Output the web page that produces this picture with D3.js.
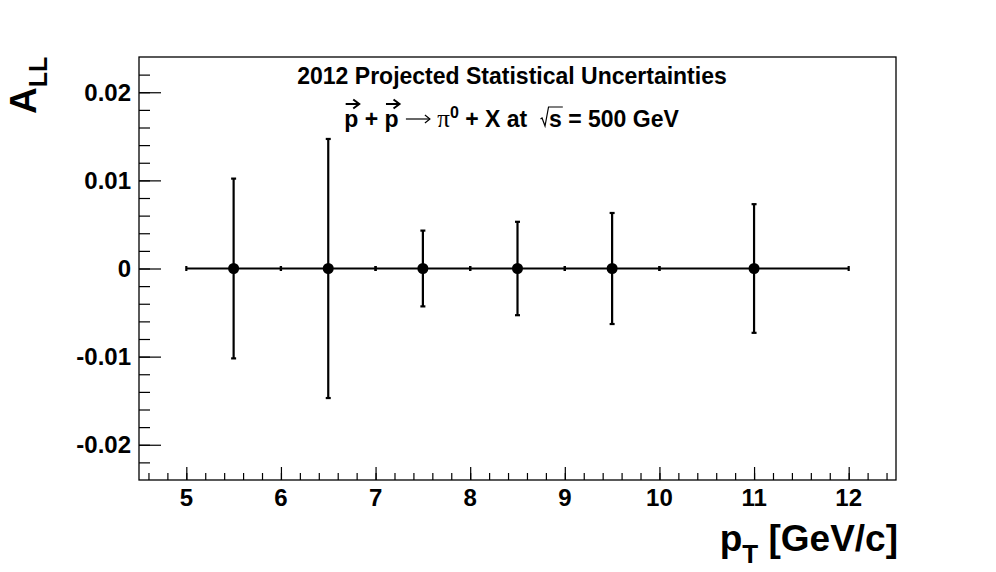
<!DOCTYPE html>
<html><head><meta charset="utf-8">
<script src="https://cdn.jsdelivr.net/npm/d3@7"></script>
<style>body{margin:0;background:#fff}svg{display:block}text{white-space:pre}</style>
</head><body>
<script>
const ptCenters = [5.5, 6.5, 7.5, 8.5, 9.5, 11];
const ptHalfWidths = [0.5, 0.5, 0.5, 0.5, 0.5, 1.0];
const allValues = [0, 0, 0, 0, 0, 0];
const allErrors = [0.0102, 0.0147, 0.0043, 0.0053, 0.0063, 0.0073];
const xTickValues = [5, 6, 7, 8, 9, 10, 11, 12];
const yTickValues = [-0.02, -0.01, 0, 0.01, 0.02];
const yTickLabels = ["-0.02", "-0.01", "0", "0.01", "0.02"];
const titleText = "2012 Projected Statistical Uncertainties";

const W = 996, H = 572;
const m = {l: 139, r: 100, t: 57, b: 92};
const FONT = "'Liberation Sans', Arial, Helvetica, sans-serif";

const svg = d3.select("body").append("svg").attr("width", W).attr("height", H)
  .style("font-family", FONT);

const x = d3.scaleLinear().domain([4.5, 12.5]).range([m.l, W - m.r]);
const y = d3.scaleLinear().domain([-0.024, 0.024]).range([H - m.b, m.t]);

// frame
svg.append("rect").attr("x", m.l).attr("y", m.t)
  .attr("width", W - m.r - m.l).attr("height", H - m.b - m.t)
  .attr("fill", "none").attr("stroke", "#000").attr("stroke-width", 1.3);

// x axis ticks
const xMinor = d3.range(4.6, 12.5, 0.2).map(v => +v.toFixed(2));
svg.append("g").attr("transform", `translate(0,${H - m.b})`)
  .call(d3.axisTop(x).tickValues(xMinor).tickSize(7).tickFormat(""))
  .call(g => g.select(".domain").remove())
  .call(g => g.selectAll("line").attr("stroke-width", 1.2));
svg.append("g").attr("transform", `translate(0,${H - m.b})`)
  .call(d3.axisTop(x).tickValues(xTickValues).tickSize(13).tickFormat(""))
  .call(g => g.select(".domain").remove())
  .call(g => g.selectAll("line").attr("stroke-width", 1.2));
svg.append("g").selectAll("text").data(xTickValues).join("text")
  .attr("x", d => x(d)).attr("y", H - m.b + 26)
  .attr("text-anchor", "middle").attr("font-weight", "bold").attr("font-size", 24)
  .text(d => d);

// y ticks
const yMinor = d3.range(-0.022, 0.0235, 0.002).map(v => +v.toFixed(4));
svg.append("g").attr("transform", `translate(${m.l},0)`)
  .call(d3.axisRight(y).tickValues(yMinor).tickSize(11).tickFormat(""))
  .call(g => g.select(".domain").remove())
  .call(g => g.selectAll("line").attr("stroke-width", 1.2));
svg.append("g").attr("transform", `translate(${m.l},0)`)
  .call(d3.axisRight(y).tickValues(yTickValues).tickSize(22).tickFormat(""))
  .call(g => g.select(".domain").remove())
  .call(g => g.selectAll("line").attr("stroke-width", 1.2));
svg.append("g").selectAll("text").data(yTickValues).join("text")
  .attr("x", m.l - 8).attr("y", d => y(d) + 8.5)
  .attr("text-anchor", "end").attr("font-weight", "bold").attr("font-size", 24)
  .text((d, i) => yTickLabels[i]);

// data
const pts = ptCenters.map((c, i) => ({c, hw: ptHalfWidths[i], v: allValues[i], e: allErrors[i]}));
const gData = svg.append("g").attr("stroke", "#000").attr("stroke-width", 2.2);
gData.selectAll(".hx").data(pts).join("line")
  .attr("x1", d => x(d.c - d.hw)).attr("x2", d => x(d.c + d.hw))
  .attr("y1", d => y(d.v)).attr("y2", d => y(d.v));
gData.selectAll(".vy").data(pts).join("line")
  .attr("x1", d => x(d.c)).attr("x2", d => x(d.c))
  .attr("y1", d => y(d.v - d.e)).attr("y2", d => y(d.v + d.e));
const caps = [];
pts.forEach(d => {
  caps.push({x1: x(d.c) - 2.5, x2: x(d.c) + 2.5, y1: y(d.v + d.e), y2: y(d.v + d.e)});
  caps.push({x1: x(d.c) - 2.5, x2: x(d.c) + 2.5, y1: y(d.v - d.e), y2: y(d.v - d.e)});
  caps.push({x1: x(d.c - d.hw), x2: x(d.c - d.hw), y1: y(d.v) - 2.5, y2: y(d.v) + 2.5});
  caps.push({x1: x(d.c + d.hw), x2: x(d.c + d.hw), y1: y(d.v) - 2.5, y2: y(d.v) + 2.5});
});
gData.selectAll(".cap").data(caps).join("line")
  .attr("x1", d => d.x1).attr("x2", d => d.x2).attr("y1", d => d.y1).attr("y2", d => d.y2);
svg.append("g").selectAll("circle").data(pts).join("circle")
  .attr("cx", d => x(d.c)).attr("cy", d => y(d.v)).attr("r", 5.5).attr("fill", "#000");

// title
svg.append("text").attr("x", 512).attr("y", 84).attr("text-anchor", "middle")
  .attr("font-weight", "bold").attr("font-size", 23).text(titleText);

// second line, built from pieces
const line2 = svg.append("g");
const base = 127;
let cx = 0;
function piece(txt, opts = {}) {
  const t = line2.append("text").attr("x", cx).attr("y", base + (opts.dy || 0))
    .attr("font-size", opts.size || 23)
    .attr("font-weight", opts.normal ? "normal" : "bold")
    .style("font-family", opts.family || FONT)
    .text(txt);
  const w = t.node().getComputedTextLength();
  const start = cx;
  cx += w;
  return {start, w};
}
function vecArrow(p) {
  const x0 = p.start + 1.5, x1 = p.start + p.w + 1, yy = base - 23;
  line2.append("line").attr("x1", x0).attr("x2", x1).attr("y1", yy).attr("y2", yy)
    .attr("stroke", "#000").attr("stroke-width", 2);
  line2.append("path").attr("d", `M${x1 - 6},${yy - 4.5} L${x1},${yy} L${x1 - 6},${yy + 4.5}`)
    .attr("fill", "none").attr("stroke", "#000").attr("stroke-width", 2);
}
vecArrow(piece("p"));
piece(" + ");
vecArrow(piece("p"));
piece(" ");
const ar0 = cx;
cx += 26;
line2.append("line").attr("x1", ar0 + 1).attr("x2", ar0 + 25).attr("y1", base - 8).attr("y2", base - 8)
  .attr("stroke", "#000").attr("stroke-width", 1.2);
line2.append("path").attr("d", `M${ar0 + 20},${base - 12} L${ar0 + 25},${base - 8} L${ar0 + 20},${base - 4}`)
  .attr("fill", "none").attr("stroke", "#000").attr("stroke-width", 1.2);
piece(" ");
piece("\u03c0", {normal: true, family: "'Liberation Serif', 'Times New Roman', serif", size: 25});
piece("0", {size: 16, dy: -9});
piece(" + X at  ");
const sq0 = cx;
cx += 9;
const sPiece = piece("s");
line2.append("path")
  .attr("d", `M${sq0 + 0.5},${base - 8} L${sq0 + 2},${base - 9} L${sq0 + 5},${base - 1} L${sq0 + 8.5},${base - 20} L${sPiece.start + sPiece.w + 1},${base - 20}`)
  .attr("fill", "none").attr("stroke", "#000").attr("stroke-width", 1.2);
piece(" = 500 GeV");
const totalW = cx;
line2.attr("transform", `translate(${511.5 - totalW / 2},0)`);

// x axis title
const xt = svg.append("text").attr("x", 898).attr("y", 551).attr("text-anchor", "end")
  .attr("font-weight", "bold").attr("font-size", 37);
xt.append("tspan").text("p");
xt.append("tspan").attr("font-size", 26).attr("dy", 12).text("T");
xt.append("tspan").attr("dy", -12).text(" [GeV/c]");

// y axis title
const yt = svg.append("text").attr("transform", `translate(36,114) rotate(-90)`)
  .attr("text-anchor", "start").attr("font-weight", "bold").attr("font-size", 37);
yt.append("tspan").text("A");
yt.append("tspan").attr("font-size", 25).attr("dy", 11).text("LL");
</script>
</body></html>
